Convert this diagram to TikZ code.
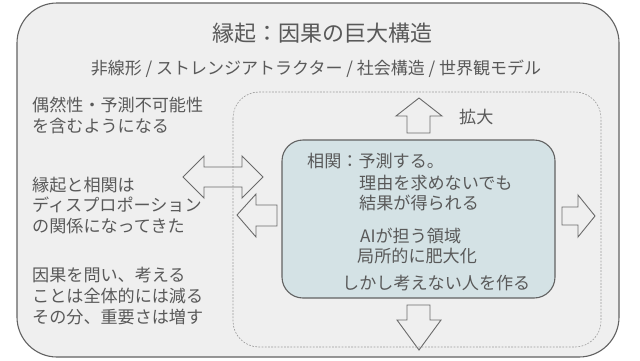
\documentclass[tikz,border=0pt]{standalone}
\usepackage{fontspec}
\setmainfont{Noto Sans CJK JP}
\definecolor{outerfill}{HTML}{EFEFEF}
\definecolor{outerdraw}{HTML}{626262}
\definecolor{innerfill}{HTML}{D4E2E5}
\definecolor{textc}{HTML}{595959}
\definecolor{dashc}{HTML}{9A9A9A}
\definecolor{arrowc}{HTML}{6A6A6A}
\begin{document}
\begin{tikzpicture}[x=1pt,y=-1pt,
  txt/.style={inner sep=0pt,anchor=base west,text=textc,font=\fontsize{17.1}{20}\selectfont},
  ttl/.style={inner sep=0pt,anchor=base,text=textc,font=\fontsize{22}{26}\selectfont},
  sub/.style={inner sep=0pt,anchor=base,text=textc,font=\fontsize{17}{20}\selectfont},
  blockarrow/.style={draw=arrowc,fill=outerfill,line width=0.9pt,line join=miter},
  outerbox/.style={draw=outerdraw,fill=outerfill,line width=1.1pt,rounded corners=40pt},
  dashbox/.style={draw=dashc,line width=0.6pt,dash pattern=on 1.8pt off 1.4pt,rounded corners=26pt},
  innerbox/.style={draw=outerdraw,fill=innerfill,line width=1.1pt,rounded corners=21pt}]
\useasboundingbox (0,0) rectangle (640,360);
\fill[white] (0,0) rectangle (640,360);
% outer box
\draw[outerbox] (17,3) rectangle (619,357);
% title and subtitle
\node[ttl] (title) at (322,41) {縁起：因果の巨大構造};
\node[sub] (subt) at (316,74) {非線形 / ストレンジアトラクター / 社会構造 / 世界観モデル};
% left texts
\node[txt] (a1) at (32,111) {偶然性・予測不可能性};
\node[txt] (a2) at (32,132) {を含むようになる};
\node[txt] (b1) at (32,191) {縁起と相関は};
\node[txt] (b2) at (32,211) {ディスプロポーション};
\node[txt] (b3) at (32,232) {の関係になってきた};
\node[txt] (c1) at (32,281) {因果を問い、考える};
\node[txt] (c2) at (32,302) {ことは全体的には減る};
\node[txt] (c3) at (32,323) {その分、重要さは増す};
% block arrows
% double arrow
\draw[blockarrow] (183,177) -- (204,156) -- (204,167) -- (242,167) -- (242,156) -- (263,177)
  -- (242,198) -- (242,187) -- (204,187) -- (204,198) -- cycle;
% left single arrow
\draw[blockarrow] (237,215) -- (256,194) -- (256,205) -- (277,205) -- (277,226) -- (256,226) -- (256,237) -- cycle;
% right arrow
\draw[blockarrow] (562,207) -- (578,207) -- (578,195) -- (595,216) -- (578,237) -- (578,225) -- (562,225) -- cycle;
% up arrow
\draw[blockarrow] (419,98) -- (442,116) -- (430,116) -- (430,133) -- (407,133) -- (407,116) -- (396,116) -- cycle;
% down arrow
\draw[blockarrow] (407,305) -- (430,305) -- (430,320) -- (441,320) -- (419,350) -- (397,320) -- (407,320) -- cycle;
% dashed region
\draw[dashbox] (233,92) rectangle (601,347);
% inner box
\draw[innerbox] (282,140) rectangle (555,298);
\node[txt] (kakudai) at (459,123) {拡大};
\node[txt] (i1) at (307,167) {相関：予測する。};
\node[txt] (i2) at (359,189) {理由を求めないでも};
\node[txt] (i3) at (359,209) {結果が得られる};
\node[txt] (i4) at (360,242) {AIが担う領域};
\node[txt] (i5) at (357,262) {局所的に肥大化};
\node[txt] (i6) at (342,289) {しかし考えない人を作る};
\end{tikzpicture}
\end{document}
